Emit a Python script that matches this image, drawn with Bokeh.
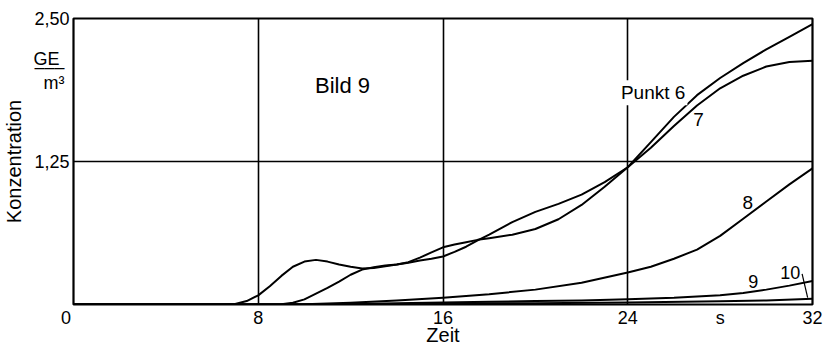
from bokeh.plotting import figure
from bokeh.models import Range1d, FixedTicker, Label
from bokeh.embed import file_html
from bokeh.resources import INLINE

FONT = "Liberation Sans"
NB = "\u00a0"

# Konzentrationsverlauf (GE/m³) über der Zeit (s) an den Messpunkten 6 bis 10
t6 = [0, 6.5, 7, 7.5, 8, 8.5, 9, 9.5, 10, 10.5, 11, 11.5, 12, 12.5, 13, 13.5, 14, 14.5,
      15, 15.5, 16, 16.5, 17, 17.5, 18, 19, 20, 21, 22, 23, 24, 25, 26, 27, 28, 29, 30, 31, 32]
c6 = [0, 0, 0.005, 0.03, 0.08, 0.16, 0.25, 0.33, 0.375, 0.39, 0.375, 0.35, 0.33, 0.315, 0.32,
      0.335, 0.35, 0.37, 0.41, 0.455, 0.50, 0.525, 0.545, 0.565, 0.58, 0.61, 0.66, 0.745, 0.87,
      1.03, 1.20, 1.42, 1.64, 1.83, 1.98, 2.11, 2.23, 2.34, 2.45]

t7 = [0, 8.5, 9, 9.5, 10, 10.5, 11, 11.5, 12, 12.5, 13, 13.5, 14, 14.5, 15, 15.5, 16, 16.5,
      17, 17.5, 18, 19, 20, 21, 22, 23, 24, 25, 26, 27, 28, 29, 30, 31, 32]
c7 = [0, 0, 0.003, 0.015, 0.045, 0.095, 0.145, 0.20, 0.26, 0.305, 0.325, 0.34, 0.35, 0.365,
      0.385, 0.40, 0.42, 0.46, 0.505, 0.56, 0.61, 0.72, 0.81, 0.88, 0.96, 1.07, 1.20, 1.37,
      1.56, 1.74, 1.89, 2.00, 2.08, 2.12, 2.13]

t8 = [0, 9, 10, 12, 14, 16, 18, 20, 22, 24, 25, 26, 27, 28, 29, 30, 31, 32]
c8 = [0, 0, 0.003, 0.015, 0.035, 0.06, 0.09, 0.13, 0.19, 0.28, 0.33, 0.40, 0.48, 0.60, 0.75,
      0.90, 1.05, 1.19]

t9 = [0, 10, 12, 14, 16, 18, 20, 22, 24, 26, 28, 29, 30, 31, 32]
c9 = [0, 0, 0.005, 0.01, 0.018, 0.024, 0.03, 0.036, 0.045, 0.058, 0.08, 0.10, 0.13, 0.165, 0.205]

t10 = [0, 12, 16, 20, 24, 28, 30, 32]
c10 = [0, 0, 0.008, 0.012, 0.018, 0.028, 0.036, 0.05]

# Zeitachse: der Nullpunkt sitzt links neben der Ecke, "s" steht als Einheit zwischen 24 und 32
x_ticks = [0, 8, 16, 24, 28, 32]
x_tick_labels = ["0" + NB * 3, "8", "16", "24", "s", "32"]
# Konzentrationsachse mit Einheit GE/m³ als Bruch unter 2,50
y_ticks = [1.25, 1.94, 2.076, 2.142, 2.5]
y_tick_labels = ["1,25", "m³" + NB, "\u2013\u2013\u2013" + NB, "GE" + NB * 2, "2,50"]

p = figure(width=823, height=348, output_backend="svg", toolbar_location=None,
           x_range=Range1d(0, 32), y_range=Range1d(0, 2.5),
           min_border_left=73, min_border_right=11, min_border_top=18, min_border_bottom=44)
p.background_fill_color = "white"
p.border_fill_color = "white"
p.outline_line_color = "black"
p.outline_line_width = 2.2

for ax in (p.xaxis[0], p.yaxis[0]):
    ax.axis_line_color = None
    ax.major_tick_line_color = None
    ax.minor_tick_line_color = None
    ax.major_tick_out = 0
    ax.major_tick_in = 0
    ax.minor_tick_out = 0
    ax.minor_tick_in = 0
    ax.major_label_text_font = FONT
    ax.major_label_text_font_size = "18px"
    ax.major_label_text_color = "black"
    ax.axis_label_text_font = FONT
    ax.axis_label_text_font_style = "normal"
    ax.axis_label_text_color = "black"

p.xaxis.ticker = FixedTicker(ticks=x_ticks)
p.xaxis.major_label_overrides = {k: v for k, v in zip(x_ticks, x_tick_labels)}
p.xaxis.major_label_standoff = 3
p.xaxis.axis_label = "Zeit"
p.xaxis.axis_label_text_font_size = "20px"
p.xaxis.axis_label_standoff = -7

p.yaxis.ticker = FixedTicker(ticks=y_ticks)
p.yaxis.major_label_overrides = {k: v for k, v in zip(y_ticks, y_tick_labels)}
p.yaxis.major_label_standoff = 4
p.yaxis.axis_label = "Konzentration"
p.yaxis.axis_label_text_font_size = "20px"
p.yaxis.axis_label_standoff = 5

p.xgrid.ticker = FixedTicker(ticks=[8, 16, 24])
p.ygrid.ticker = FixedTicker(ticks=[1.25])
for g in (p.xgrid[0], p.ygrid[0]):
    g.grid_line_color = "black"
    g.grid_line_width = 1.6
    g.grid_line_alpha = 1.0

# Kurven der Messpunkte
for tt, cc in ((t10, c10), (t9, c9), (t8, c8), (t7, c7), (t6, c6)):
    p.line(tt, cc, line_color="black", line_width=2, line_join="round")

# Hinweislinie von der Beschriftung "10" zur Kurve
p.segment(x0=[31.55], y0=[0.268], x1=[31.79], y1=[0.06], line_color="black", line_width=1.2)

def label(x, y, text, size, bg=None):
    lab = Label(x=x, y=y, text=text, text_font=FONT, text_font_size=size,
                text_color="black", text_align="center", text_baseline="middle")
    if bg:
        lab.background_fill_color = bg
        lab.padding = 2
    p.add_layout(lab)

label(11.65, 1.91, "Bild 9", "22px")
label(25.1, 1.85, "Punkt 6", "19px", bg="white")
label(27.06, 1.62, "7", "19px")
label(29.2, 0.89, "8", "19px")
label(29.44, 0.20, "9", "18px")
label(31.04, 0.28, "10", "18px")

open("out.html", "w").write(file_html(p, INLINE))
